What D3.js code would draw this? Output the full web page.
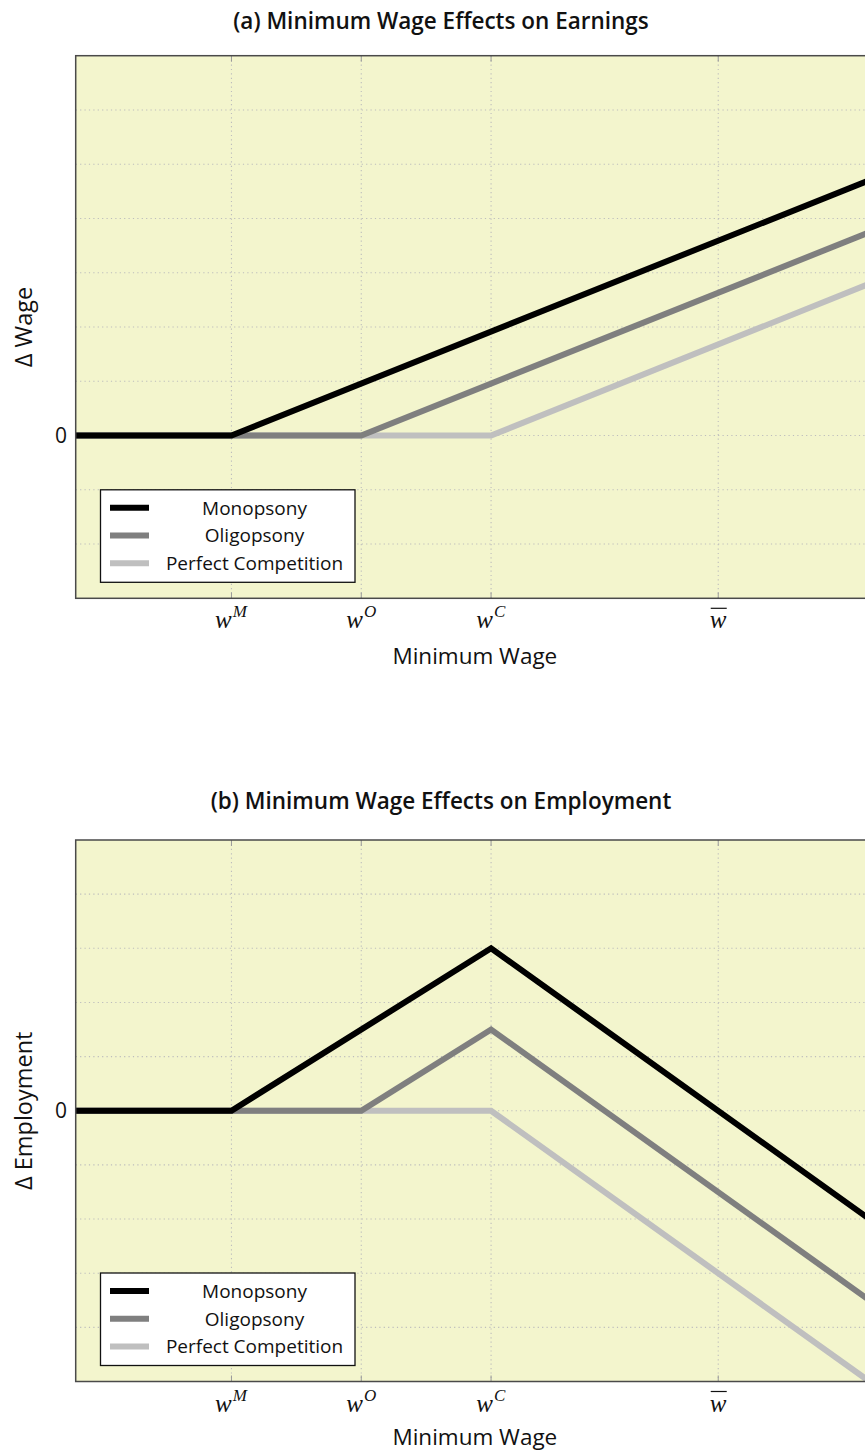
<!DOCTYPE html>
<html>
<head>
<meta charset="utf-8">
<script src="https://cdn.jsdelivr.net/npm/d3@7"></script>
<style>
  html, body { margin: 0; padding: 0; background: #ffffff; }
  svg { display: block; }
</style>
</head>
<body>
<svg id="chart" width="865" height="1452"></svg>
<script>
// ---------- data ----------
const seriesNames = ["Monopsony", "Oligopsony", "Perfect Competition"];
const seriesColors = ["#000000", "#7f7f7f", "#bfbfbf"];

// x tick positions (threshold wages) and their labels
const xTickValues = [1.2, 2.2, 3.2, 4.95];
const xTickBase = ["w", "w", "w", "w"];
const xTickSup = ["M", "O", "C", ""];
const xTickBar = [false, false, false, true];
const xDomain = [0, 6.15];

// panel (a): change in wage
const wageMonopsony = [[0, 0], [1.2, 0], [6.15, 4.74]];
const wageOligopsony = [[0, 0], [2.2, 0], [6.15, 3.78]];
const wageCompetition = [[0, 0], [3.2, 0], [6.15, 2.83]];
const wageYDomain = [-3, 7];

// panel (b): change in employment
const empMonopsony = [[0, 0], [1.2, 0], [3.2, 3.0], [6.15, -2.06]];
const empOligopsony = [[0, 0], [2.2, 0], [3.2, 1.5], [6.15, -3.56]];
const empCompetition = [[0, 0], [3.2, 0], [6.15, -5.06]];
const empYDomain = [-5, 5];

const yTickLabelValues = [0];

// ---------- drawing ----------
const svg = d3.select("#chart");
const SANS = "'Open Sans', 'Noto Sans', sans-serif";
const SERIF = "'Liberation Serif', 'DejaVu Serif', serif";
const plotLeft = 75.7, plotRight = 874;

function drawPanel(opt) {
  const g = svg.append("g");
  const x = d3.scaleLinear().domain(xDomain).range([plotLeft, plotRight]);
  const y = d3.scaleLinear().domain(opt.yDomain).range([opt.bottom, opt.top]);

  // title
  g.append("text")
    .attr("x", 441).attr("y", opt.titleY)
    .attr("text-anchor", "middle")
    .attr("font-family", SANS).attr("font-weight", 600)
    .attr("font-size", 22.5).attr("fill", "#111")
    .text(opt.title);

  // background
  g.append("rect")
    .attr("x", plotLeft).attr("y", opt.top)
    .attr("width", plotRight - plotLeft).attr("height", opt.bottom - opt.top)
    .attr("fill", "#f3f5cd");

  // grid
  const yGrid = d3.range(Math.ceil(opt.yDomain[0]) + 1, opt.yDomain[1]);
  g.append("g").selectAll("line").data(yGrid).join("line")
    .attr("x1", plotLeft).attr("x2", plotRight)
    .attr("y1", d => y(d)).attr("y2", d => y(d))
    .attr("stroke", "#bdbdbd").attr("stroke-width", 1.1)
    .attr("stroke-dasharray", "1.2,3.2");
  g.append("g").selectAll("line").data(xTickValues).join("line")
    .attr("x1", d => x(d)).attr("x2", d => x(d))
    .attr("y1", opt.top).attr("y2", opt.bottom)
    .attr("stroke", "#bdbdbd").attr("stroke-width", 1.1)
    .attr("stroke-dasharray", "1.2,3.2");

  // inner tick marks
  g.append("g").selectAll("line").data(xTickValues).join("line")
    .attr("x1", d => x(d)).attr("x2", d => x(d))
    .attr("y1", opt.bottom).attr("y2", opt.bottom - 6)
    .attr("stroke", "#999").attr("stroke-width", 1);
  g.append("g").selectAll("line").data(xTickValues).join("line")
    .attr("x1", d => x(d)).attr("x2", d => x(d))
    .attr("y1", opt.top).attr("y2", opt.top + 6)
    .attr("stroke", "#999").attr("stroke-width", 1);

  // clip
  const clipId = "clip-" + opt.id;
  g.append("clipPath").attr("id", clipId).append("rect")
    .attr("x", plotLeft).attr("y", opt.top)
    .attr("width", plotRight - plotLeft).attr("height", opt.bottom - opt.top);

  const line = d3.line().x(d => x(d[0])).y(d => y(d[1]));
  const lg = g.append("g").attr("clip-path", `url(#${clipId})`);
  // draw lightest first so darker lines sit on top
  [2, 1, 0].forEach(i => {
    lg.append("path").datum(opt.series[i])
      .attr("d", line)
      .attr("fill", "none")
      .attr("stroke", seriesColors[i])
      .attr("stroke-width", 6)
      .attr("stroke-linejoin", "miter")
      .attr("stroke-linecap", "butt");
  });

  // frame
  g.append("rect")
    .attr("x", plotLeft).attr("y", opt.top)
    .attr("width", plotRight - plotLeft).attr("height", opt.bottom - opt.top)
    .attr("fill", "none").attr("stroke", "#4a4a4a").attr("stroke-width", 1.5);

  // y tick labels
  g.append("g").selectAll("text").data(yTickLabelValues).join("text")
    .attr("x", 67).attr("y", d => y(d) + 7.5)
    .attr("text-anchor", "end")
    .attr("font-family", SANS).attr("font-size", 21).attr("fill", "#111")
    .text(d => d);

  // x tick labels
  xTickValues.forEach((v, i) => {
    const cx = x(v);
    const t = g.append("text")
      .attr("y", opt.bottom + 30)
      .attr("font-family", SERIF).attr("fill", "#111");
    t.append("tspan").attr("font-style", "italic")
      .attr("font-size", 25).text(xTickBase[i]);
    if (xTickSup[i]) {
      t.append("tspan").attr("font-style", "italic").attr("font-size", 17)
        .attr("dy", -11).attr("dx", 1).text(xTickSup[i]);
    }
    const bb = t.node().getBBox();
    t.attr("x", cx - bb.width / 2);
    if (xTickBar[i]) {
      const bb2 = t.node().getBBox();
      g.append("line")
        .attr("x1", bb2.x + 1).attr("x2", bb2.x + bb2.width)
        .attr("y1", opt.bottom + 10).attr("y2", opt.bottom + 10)
        .attr("stroke", "#111").attr("stroke-width", 1.2);
    }
  });

  // x axis label
  g.append("text")
    .attr("x", (plotLeft + plotRight) / 2).attr("y", opt.bottom + opt.xLabelOffset)
    .attr("text-anchor", "middle")
    .attr("font-family", SANS).attr("font-size", 22.5).attr("fill", "#111")
    .text("Minimum Wage");

  // y axis label
  g.append("text")
    .attr("transform", `translate(32,${(opt.top + opt.bottom) / 2}) rotate(-90)`)
    .attr("text-anchor", "middle")
    .attr("font-family", SANS).attr("font-size", 23.5).attr("fill", "#111")
    .text(opt.yLabel);

  // legend
  const lgX = 100.5, lgY = opt.bottom - 16 - 92.5, lgW = 254.5, lgH = 92.5;
  const leg = g.append("g");
  leg.append("rect").attr("x", lgX).attr("y", lgY).attr("width", lgW).attr("height", lgH)
    .attr("fill", "#ffffff").attr("stroke", "#111").attr("stroke-width", 1.3);
  seriesNames.forEach((name, i) => {
    const ry = lgY + 18 + i * 27.7;
    leg.append("line").attr("x1", 110).attr("x2", 149)
      .attr("y1", ry).attr("y2", ry)
      .attr("stroke", seriesColors[i]).attr("stroke-width", 6);
    leg.append("text").attr("x", 254.5).attr("y", ry + 6.8)
      .attr("text-anchor", "middle")
      .attr("font-family", SANS).attr("font-size", 19).attr("fill", "#111")
      .text(name);
  });
}

drawPanel({
  id: "a", title: "(a) Minimum Wage Effects on Earnings", titleY: 28.5,
  top: 55.7, bottom: 598.3, yDomain: wageYDomain, yLabel: "\u0394 Wage",
  xLabelOffset: 66,
  series: [wageMonopsony, wageOligopsony, wageCompetition]
});
drawPanel({
  id: "b", title: "(b) Minimum Wage Effects on Employment", titleY: 808.5,
  top: 840, bottom: 1381.5, yDomain: empYDomain, yLabel: "\u0394 Employment",
  xLabelOffset: 63.5,
  series: [empMonopsony, empOligopsony, empCompetition]
});
</script>
</body>
</html>
